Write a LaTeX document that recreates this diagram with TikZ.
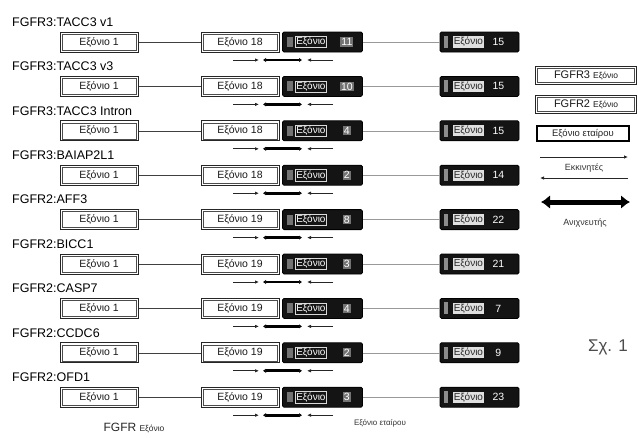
\documentclass[tikz,border=0pt]{standalone}
\usepackage{fontspec}
\setmainfont{Liberation Sans}
\usetikzlibrary{arrows.meta}

\tikzset{
  rowlabel/.style={anchor=west, inner sep=0pt, text=black, font=\fontsize{12.5}{14}\selectfont},
  fgfrbox/.style={draw=black!85, line width=1pt, fill=white,
    minimum width=78pt, minimum height=20pt, inner sep=0pt, text=black!90, font=\fontsize{10.5}{12}\selectfont},
  frame/.style={draw=black!70, line width=0.5pt},
  partbox/.style={draw=black, fill=black!92, rounded corners=1.5pt, line width=0.8pt,
    minimum width=80pt, minimum height=20pt, inner sep=0pt},
  parttext/.style={inner sep=1pt, font=\fontsize{10}{11}\selectfont},
  link/.style={draw=black!75, line width=0.6pt},
  primer/.style={draw=black!85, line width=0.9pt, -{Latex[length=4pt,width=3.5pt]}},
  probe/.style={draw=black, line width=2.8pt, {Latex[length=3pt,width=4.5pt]}-{Latex[length=3pt,width=4.5pt]}}
}
% inner line of a FGFR exon box
\newcommand{\exframe}[1]{\draw[frame] ([shift={(2.5pt,-2.5pt)}]#1.north west) rectangle ([shift={(-2.5pt,2.5pt)}]#1.south east);}

\begin{document}
\begin{tikzpicture}[x=1pt, y=-1pt]
  \useasboundingbox (0,0) rectangle (638,437);

  % fusion rows
  \foreach \i/\fus/\fx/\px/\ex in {0/{FGFR3:TACC3 v1}/18/11/15, 1/{FGFR3:TACC3 v3}/18/10/15,
      2/{FGFR3:TACC3 Intron}/18/4/15, 3/{FGFR3:BAIAP2L1}/18/2/14, 4/{FGFR2:AFF3}/19/8/22,
      5/{FGFR2:BICC1}/19/3/21, 6/{FGFR2:CASP7}/19/4/7, 7/{FGFR2:CCDC6}/19/2/9, 8/{FGFR2:OFD1}/19/3/23} {
    \pgfmathsetmacro{\y}{42+44.4*\i}
    \node[rowlabel] (lab\i) at (12,\y-20) {\fus};
    \node[fgfrbox] (exa\i) at (99,\y) {Εξόνιο 1};
    \exframe{exa\i}
    \node[fgfrbox] (exf\i) at (240,\y) {Εξόνιο \fx};
    \exframe{exf\i}

    % partner exon at the break
    \node[partbox] (pm\i) at (322.5,\y) {};
    \node[fill=black!55, minimum width=6pt, minimum height=10pt, inner sep=0pt] at ([xshift=8pt]pm\i.west) {};
    \node[parttext, anchor=west, text=white, draw=white!85!black, line width=0.4pt] at ([xshift=13pt]pm\i.west) {Εξόνιο};
    \node[parttext, text=white, fill=black!55, font=\fontsize{10.5}{12}\selectfont] at ([xshift=-16pt]pm\i.east) {\px};

    % last partner exon
    \node[partbox, minimum width=79pt] (pe\i) at (479.5,\y) {};
    \node[fill=black!45, minimum width=4pt, minimum height=12pt, inner sep=0pt] at ([xshift=6pt]pe\i.west) {};
    \node[parttext, anchor=west, fill=white!88!black, text=black!85] at ([xshift=13pt]pe\i.west) {Εξόνιο};
    \node[parttext, text=white, font=\fontsize{10.5}{12}\selectfont] at ([xshift=-21pt]pe\i.east) {\ex};

    \draw[link] (exa\i) -- (exf\i);
    \draw[link, draw=black!40] (pm\i) -- (pe\i);

    % primers and probe
    \coordinate (fa\i) at (233,\y+18);
    \coordinate (fb\i) at (259,\y+18);
    \coordinate (pa\i) at (263,\y+18);
    \coordinate (pb\i) at (302,\y+18);
    \coordinate (ra\i) at (333,\y+18);
    \coordinate (rb\i) at (307,\y+18);
    \draw[primer] (fa\i) -- (fb\i);
    \draw[probe] (pa\i) -- (pb\i);
    \draw[primer] (ra\i) -- (rb\i);
  }

  % legend
  \node[fgfrbox, minimum width=101pt, minimum height=18pt] (lgt) at (586,75)
    {\fontsize{11}{12}\selectfont FGFR3 \fontsize{8.5}{10}\selectfont Εξόνιο};
  \exframe{lgt}
  \node[fgfrbox, minimum width=101pt, minimum height=18pt] (lgs) at (586,104.5)
    {\fontsize{11}{12}\selectfont FGFR2 \fontsize{8.5}{10}\selectfont Εξόνιο};
  \exframe{lgs}
  \node[draw=black, line width=2.6pt, fill=white, minimum width=92pt, minimum height=15pt, inner sep=0pt,
    text=black!85, font=\fontsize{9.5}{11}\selectfont] (lgp) at (583,133.5) {Εξόνιο εταίρου};

  \coordinate (lpa) at (540,157);
  \coordinate (lpb) at (628,157);
  \coordinate (lra) at (628,178);
  \coordinate (lrb) at (540,178);
  \draw[primer] (lpa) -- (lpb);
  \node[text=black!80, font=\fontsize{9}{10}\selectfont] (lgpr) at (584,168) {Εκκινητές};
  \draw[primer] (lra) -- (lrb);

  \coordinate (lqa) at (541,202);
  \coordinate (lqb) at (630,202);
  \draw[draw=black, line width=5pt, {Latex[length=9pt,width=14pt]}-{Latex[length=9pt,width=14pt]}] (lqa) -- (lqb);
  \node[text=black!80, font=\fontsize{9}{10}\selectfont] (lgpb) at (585,223) {Ανιχνευτής};

  % captions
  \node[text=black!70, font=\fontsize{17}{19}\selectfont] (fig) at (608,347) {Σχ. 1};
  \node[text=black!85] (botf) at (134,428)
    {\fontsize{12}{14}\selectfont FGFR \fontsize{8.5}{10}\selectfont Εξόνιο};
  \node[text=black!80, font=\fontsize{8}{10}\selectfont] (botp) at (380,423) {Εξόνιο εταίρου};
\end{tikzpicture}
\end{document}
